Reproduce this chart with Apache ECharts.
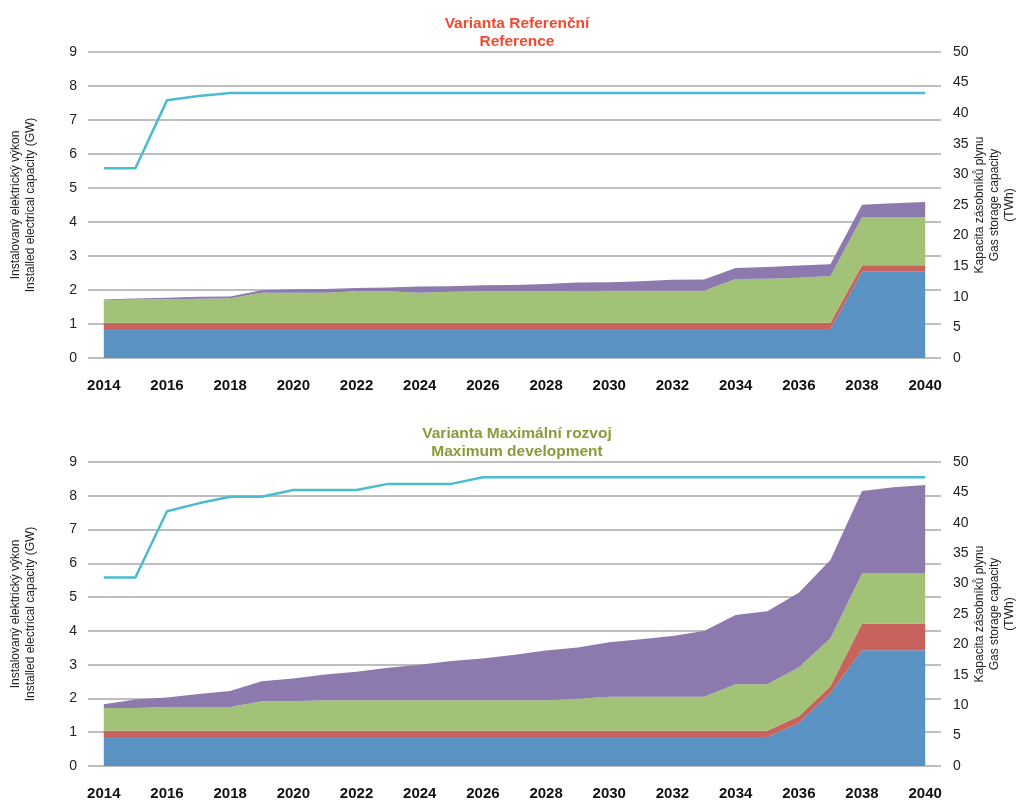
<!DOCTYPE html>
<html lang="cs">
<head>
  <meta charset="UTF-8">
  <title>Instalovaný elektrický výkon a kapacita zásobníků plynu</title>
  <script src="https://cdn.jsdelivr.net/npm/echarts@6/dist/echarts.min.js"></script>
</head>
<body style="margin:0;background:#fff">
  <div id="chart" style="width:1034px;height:802px;"></div>

  <script>
    // roky na ose x
    var years = ['2014', '2015', '2016', '2017', '2018', '2019', '2020', '2021', '2022',
      '2023', '2024', '2025', '2026', '2027', '2028', '2029', '2030', '2031', '2032',
      '2033', '2034', '2035', '2036', '2037', '2038', '2039', '2040'];

    // Varianta Referenční (GW, skládané plochy)
    var refBlue = [0.85, 0.85, 0.85, 0.85, 0.85, 0.85, 0.85, 0.85, 0.85, 0.85, 0.85, 0.85, 0.85,
      0.85, 0.85, 0.85, 0.85, 0.85, 0.85, 0.85, 0.85, 0.85, 0.85, 0.85, 2.54, 2.54, 2.54];
    var refRed = [0.19, 0.19, 0.19, 0.19, 0.19, 0.19, 0.19, 0.19, 0.19, 0.19, 0.19, 0.19, 0.19,
      0.19, 0.19, 0.19, 0.19, 0.19, 0.19, 0.19, 0.19, 0.19, 0.19, 0.19, 0.19, 0.19, 0.19];
    var refGreen = [0.66, 0.68, 0.69, 0.70, 0.72, 0.88, 0.88, 0.88, 0.92, 0.92, 0.88, 0.91, 0.92,
      0.92, 0.92, 0.93, 0.94, 0.94, 0.94, 0.94, 1.28, 1.29, 1.32, 1.37, 1.41, 1.41, 1.41];
    var refPurple = [0.02, 0.03, 0.04, 0.06, 0.05, 0.07, 0.10, 0.11, 0.10, 0.11, 0.18, 0.16, 0.18,
      0.19, 0.22, 0.25, 0.25, 0.28, 0.32, 0.33, 0.33, 0.35, 0.36, 0.35, 0.37, 0.41, 0.45];
    // kapacita zásobníků plynu (TWh)
    var refGas = [31, 31, 42.1, 42.8, 43.3, 43.3, 43.3, 43.3, 43.3, 43.3, 43.3, 43.3, 43.3,
      43.3, 43.3, 43.3, 43.3, 43.3, 43.3, 43.3, 43.3, 43.3, 43.3, 43.3, 43.3, 43.3, 43.3];

    // Varianta Maximální rozvoj
    var maxBlue = [0.86, 0.86, 0.86, 0.86, 0.86, 0.86, 0.86, 0.86, 0.86, 0.86, 0.86, 0.86, 0.86,
      0.86, 0.86, 0.86, 0.86, 0.86, 0.86, 0.86, 0.86, 0.86, 1.27, 2.16, 3.43, 3.43, 3.43];
    var maxRed = [0.18, 0.18, 0.18, 0.18, 0.18, 0.18, 0.18, 0.18, 0.18, 0.18, 0.18, 0.18, 0.18,
      0.18, 0.18, 0.18, 0.18, 0.18, 0.18, 0.18, 0.18, 0.18, 0.20, 0.20, 0.78, 0.78, 0.78];
    var maxGreen = [0.68, 0.68, 0.71, 0.71, 0.71, 0.88, 0.88, 0.91, 0.91, 0.91, 0.91, 0.91, 0.91,
      0.91, 0.91, 0.95, 1.01, 1.01, 1.01, 1.01, 1.38, 1.38, 1.45, 1.42, 1.49, 1.49, 1.49];
    var maxPurple = [0.11, 0.25, 0.28, 0.38, 0.47, 0.59, 0.67, 0.76, 0.84, 0.96, 1.05, 1.16, 1.23,
      1.34, 1.47, 1.52, 1.61, 1.70, 1.80, 1.95, 2.05, 2.16, 2.21, 2.32, 2.44, 2.55, 2.62];
    var maxGas = [31, 31, 41.9, 43.2, 44.3, 44.3, 45.4, 45.4, 45.4, 46.4, 46.4, 46.4, 47.5,
      47.5, 47.5, 47.5, 47.5, 47.5, 47.5, 47.5, 47.5, 47.5, 47.5, 47.5, 47.5, 47.5, 47.5];

    var colors = ['#5b92c4', '#c8625c', '#a2c277', '#8c79ae'];
    var gasColor = '#4bbcd0';
    var font = 'Liberation Sans, Arial, Helvetica, sans-serif';

    var chart = echarts.init(document.getElementById('chart'));

    function xAxisFor(i) {
      return {
        type: 'category', gridIndex: i, data: years,
        axisLine: { show: false }, axisTick: { show: false },
        axisLabel: { interval: 1, margin: 20, fontSize: 15, fontWeight: 'bold', color: '#111', fontFamily: font }
      };
    }

    function leftAxis(i) {
      return {
        type: 'value', gridIndex: i, position: 'left', min: 0, max: 9, interval: 1,
        axisLine: { show: false }, axisTick: { show: false },
        axisLabel: { margin: 11, fontSize: 14, color: '#222', fontFamily: font },
        splitLine: { lineStyle: { color: '#a8a8a8', width: 1.5 } },
        name: 'Instalovaný elektrický výkon\nInstalled electrical capacity (GW)',
        nameLocation: 'middle', nameRotate: 90, nameGap: 50,
        nameTextStyle: { fontSize: 12, lineHeight: 15, color: '#222', fontFamily: font }
      };
    }

    function rightAxis(i) {
      return {
        type: 'value', gridIndex: i, position: 'right', min: 0, max: 50, interval: 5,
        axisLine: { show: false }, axisTick: { show: false },
        splitLine: { show: false },
        axisLabel: { margin: 12, fontSize: 14, color: '#222', fontFamily: font },
        name: 'Kapacita zásobníků plynu\nGas storage capacity\n(TWh)',
        nameLocation: 'middle', nameRotate: 90, nameGap: 31, nameMoveOverlap: false,
        nameTextStyle: { fontSize: 12, lineHeight: 15, color: '#222', fontFamily: font }
      };
    }

    function areaSeries(i, values, color) {
      return {
        type: 'line', xAxisIndex: i, yAxisIndex: i * 2, stack: 'gw' + i,
        data: values, symbol: 'none', color: color,
        lineStyle: { width: 0 },
        areaStyle: { color: color, opacity: 1 },
        emphasis: { disabled: true }
      };
    }

    function gasSeries(i, values) {
      return {
        type: 'line', xAxisIndex: i, yAxisIndex: i * 2 + 1, data: values,
        symbol: 'none', color: gasColor, lineStyle: { color: gasColor, width: 2.5 },
        emphasis: { disabled: true }, z: 5
      };
    }

    var option = {
      animation: false,
      textStyle: { fontFamily: font },
      title: [
        {
          text: 'Varianta Referenční\nReference', left: 512, top: 10, textAlign: 'center',
          textStyle: { color: '#f04a32', fontSize: 15.5, fontWeight: 'bold', lineHeight: 18, fontFamily: font }
        },
        {
          text: 'Varianta Maximální rozvoj\nMaximum development', left: 512, top: 420, textAlign: 'center',
          textStyle: { color: '#8b9a3a', fontSize: 15.5, fontWeight: 'bold', lineHeight: 18, fontFamily: font }
        }
      ],
      grid: [
        { left: 87, right: 93, top: 52, height: 306 },
        { left: 87, right: 93, top: 462, height: 304 }
      ],
      xAxis: [xAxisFor(0), xAxisFor(1)],
      yAxis: [leftAxis(0), rightAxis(0), leftAxis(1), rightAxis(1)],
      series: [
        areaSeries(0, refBlue, colors[0]),
        areaSeries(0, refRed, colors[1]),
        areaSeries(0, refGreen, colors[2]),
        areaSeries(0, refPurple, colors[3]),
        gasSeries(0, refGas),
        areaSeries(1, maxBlue, colors[0]),
        areaSeries(1, maxRed, colors[1]),
        areaSeries(1, maxGreen, colors[2]),
        areaSeries(1, maxPurple, colors[3]),
        gasSeries(1, maxGas)
      ]
    };

    chart.setOption(option);
  </script>
</body>
</html>
